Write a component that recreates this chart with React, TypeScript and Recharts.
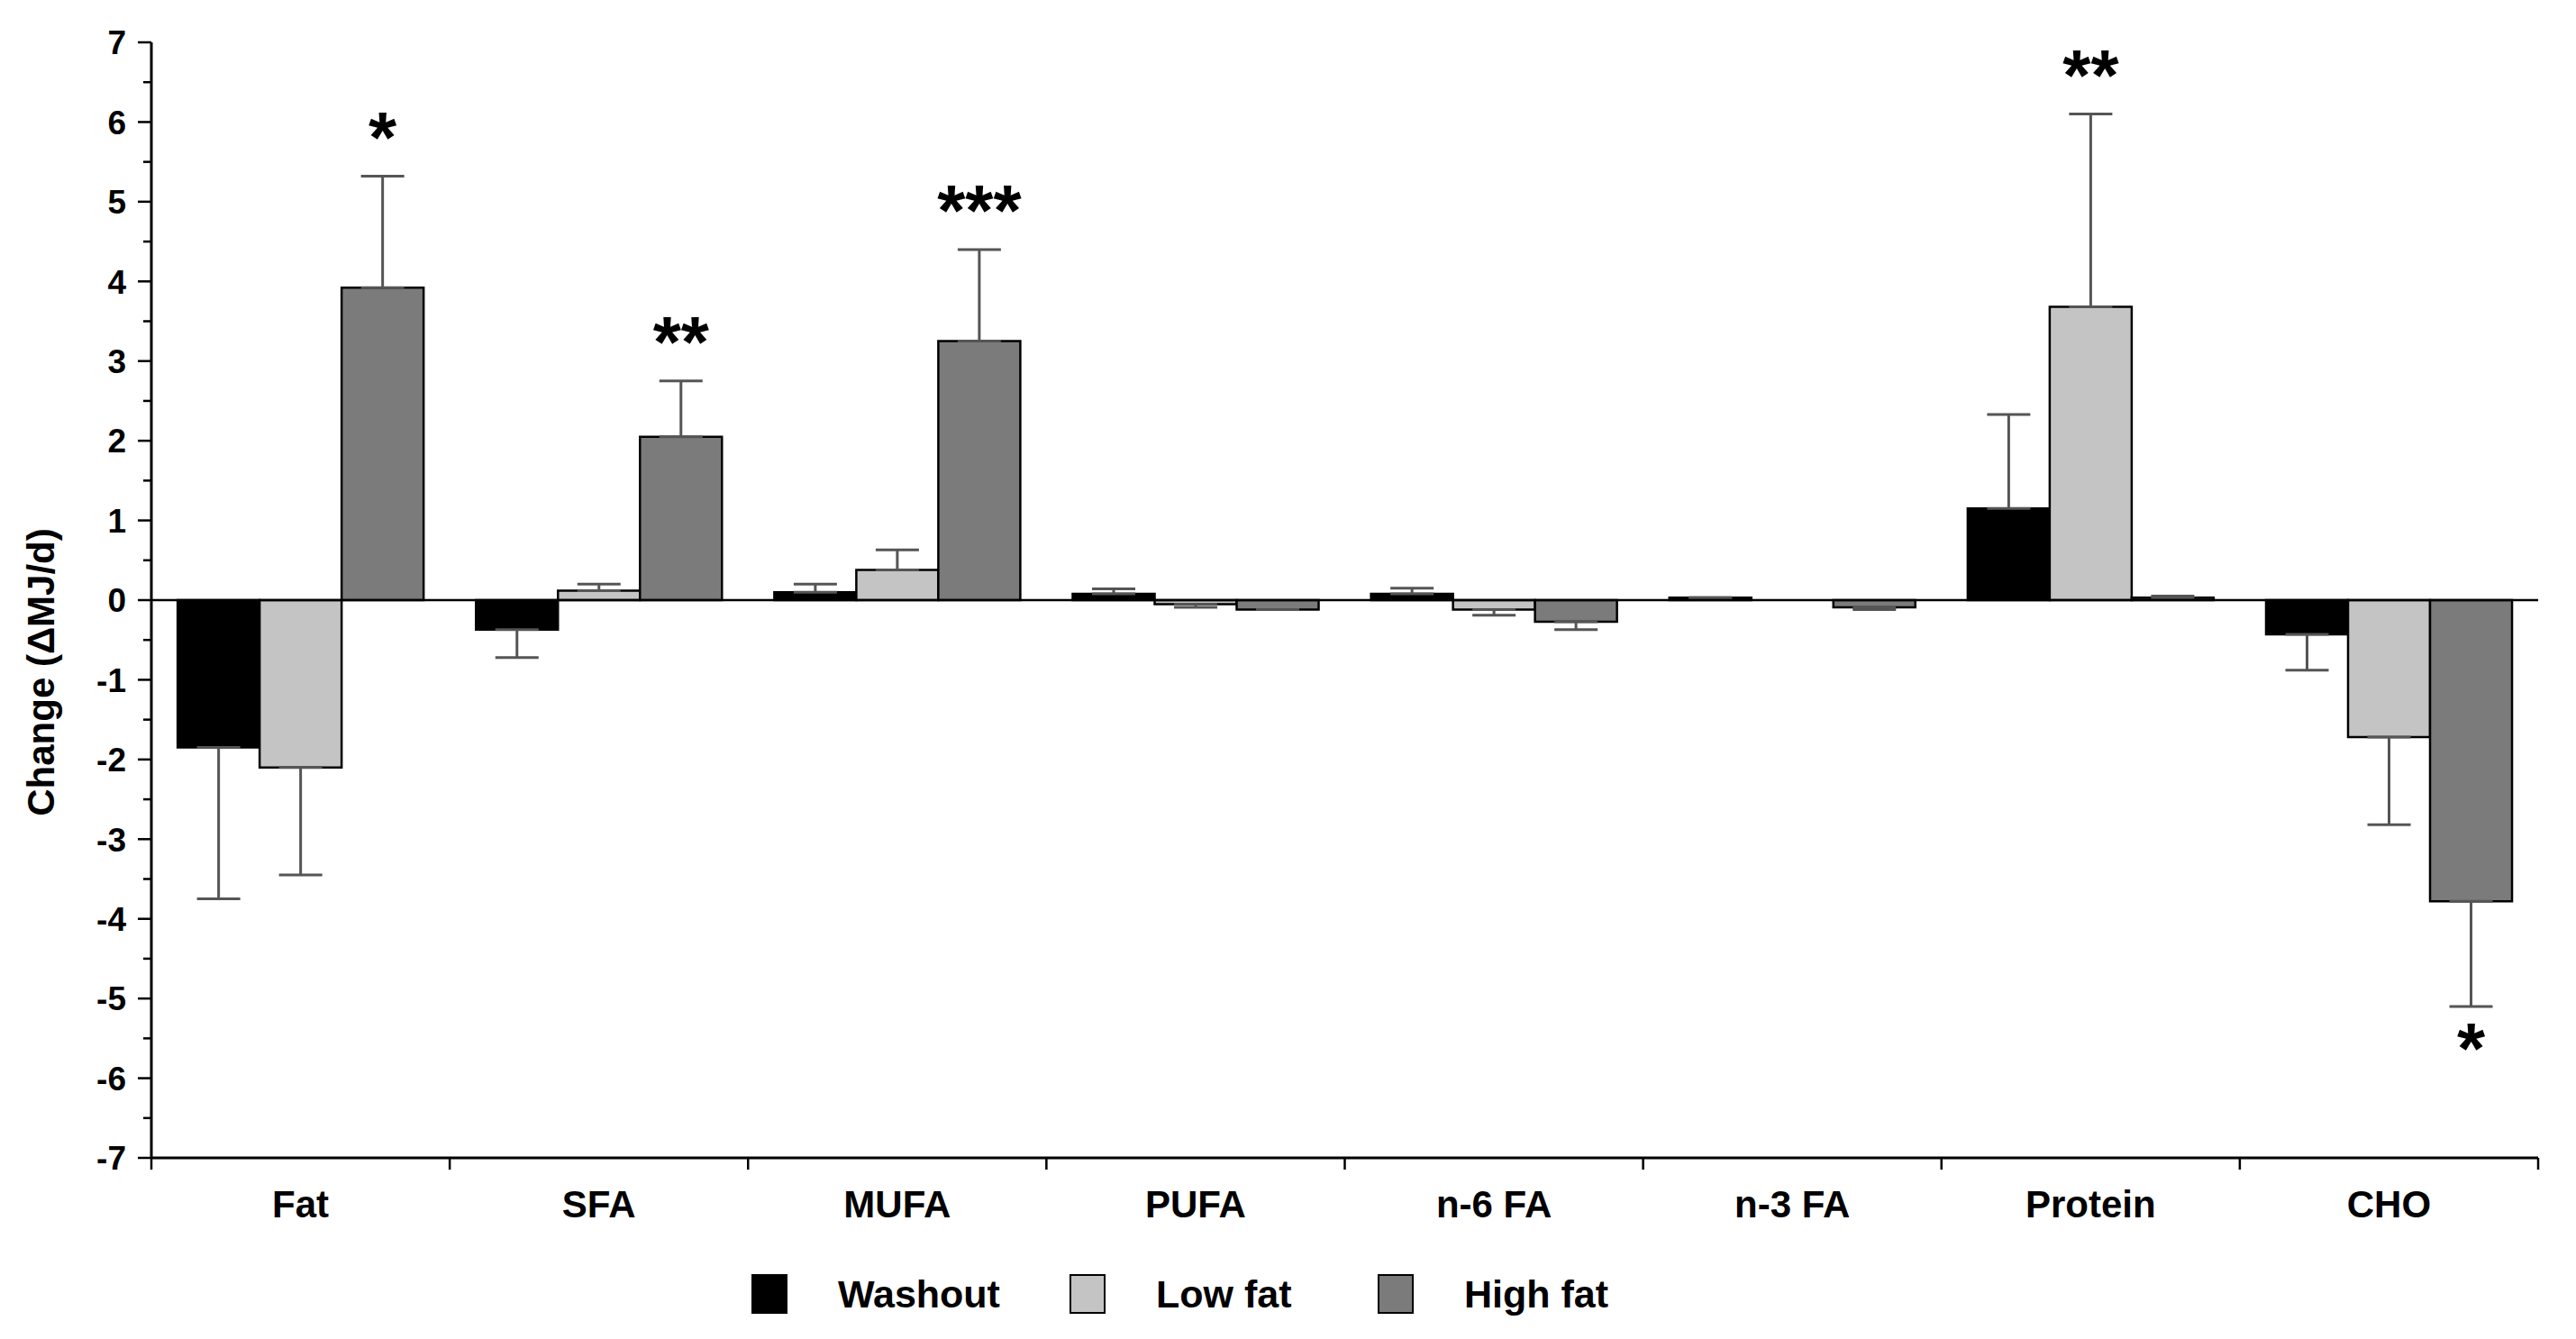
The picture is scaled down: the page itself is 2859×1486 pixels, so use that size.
import {
  BarChart, Bar, XAxis, YAxis, ErrorBar, ReferenceLine, Legend, LabelList, Label,
} from "recharts";

const categories = ["Fat", "SFA", "MUFA", "PUFA", "n-6 FA", "n-3 FA", "Protein", "CHO"];

// mean change per group (MJ/d)
const washout = [-1.85, -0.37, 0.1, 0.08, 0.08, 0.03, 1.15, -0.43];
const lowFat = [-2.1, 0.12, 0.38, -0.05, -0.12, 0, 3.68, -1.72];
const highFat = [3.92, 2.05, 3.25, -0.12, -0.27, -0.09, 0.03, -3.78];

// error bar length (drawn away from zero only)
const washoutErr = [1.9, 0.35, 0.1, 0.06, 0.07, 0, 1.18, 0.45];
const lowFatErr = [1.35, 0.08, 0.25, 0.04, 0.07, 0, 2.42, 1.1];
const highFatErr = [1.4, 0.7, 1.15, 0, 0.1, 0.03, 0.02, 1.32];

// significance marks
const washoutSig = ["", "", "", "", "", "", "", ""];
const lowFatSig = ["", "", "", "", "", "", "**", ""];
const highFatSig = ["*", "**", "***", "", "", "", "", "*"];

const majorTicks = [-7, -6, -5, -4, -3, -2, -1, 0, 1, 2, 3, 4, 5, 6, 7];
const yTicks = majorTicks.flatMap((t) => (t < 7 ? [t, t + 0.5] : [t]));

const FONT = "'Liberation Sans', Arial, Helvetica, sans-serif";

const oneSided = (v: number, e: number) => (v < 0 ? [e, 0] : [0, e]);

const data = categories.map((name, i) => ({
  name,
  idx: i,
  washout: washout[i],
  lowFat: lowFat[i],
  highFat: highFat[i],
  washoutErr: oneSided(washout[i], washoutErr[i]),
  lowFatErr: oneSided(lowFat[i], lowFatErr[i]),
  highFatErr: oneSided(highFat[i], highFatErr[i]),
}));

const legendItems = [
  { label: "Washout", color: "#000000", w: 353 },
  { label: "Low fat", color: "#c4c4c4", w: 342 },
  { label: "High fat", color: "#7b7b7b", w: 300 },
];

// label value is the row index, so skipped zero bars don't shift things
const starLabel = (vals: number[], errs: number[], sigs: string[]) => (props: any) => {
  const idx = Number(props.value);
  const sig = sigs[idx];
  if (!sig) return null;
  const vb = props.viewBox || props;
  const { x, y, width, height } = vb;
  const v = vals[idx];
  const ppu = Math.abs(height) / Math.abs(v);
  const top = Math.min(y, y + height);
  const bottom = Math.max(y, y + height);
  const cx = x + width / 2;
  const ty = v >= 0 ? top - errs[idx] * ppu - 16 : bottom + errs[idx] * ppu + 74;
  return (
    <text x={cx} y={ty} textAnchor="middle" fontSize={80} fontWeight="bold" fontFamily={FONT} fill="#000">
      {sig}
    </text>
  );
};

const YTick = (props: any) => {
  const { x, y, payload } = props;
  const major = Number.isInteger(payload.value);
  return (
    <g>
      <line x1={x - (major ? 15 : 9)} x2={x} y1={y} y2={y} stroke="#000" strokeWidth={2.5} />
      {major && (
        <text x={x - 28} y={y} dy="0.36em" textAnchor="end" fontSize={37} fontWeight="bold" fontFamily={FONT} fill="#000">
          {payload.value}
        </text>
      )}
    </g>
  );
};

const XTick = (props: any) => {
  const { x, y, payload, index, width, visibleTicksCount } = props;
  const n = visibleTicksCount || categories.length;
  const half = (width || 2649) / n / 2;
  return (
    <g>
      <line x1={x - half} x2={x - half} y1={y} y2={y + 13} stroke="#000" strokeWidth={2.5} />
      {index === n - 1 && <line x1={x + half} x2={x + half} y1={y} y2={y + 13} stroke="#000" strokeWidth={2.5} />}
      <text x={x} y={y + 66} textAnchor="middle" fontSize={42} fontWeight="bold" fontFamily={FONT} fill="#000">
        {payload.value}
      </text>
    </g>
  );
};

const LegendBox = () => (
  <div style={{ display: "flex", alignItems: "center", height: 100, paddingLeft: 834, fontFamily: FONT }}>
    {legendItems.map((it) => (
      <div key={it.label} style={{ display: "flex", alignItems: "center", width: it.w }}>
        <div style={{ width: 40, height: 44, background: it.color, border: "2px solid #000", boxSizing: "border-box" }} />
        <span style={{ marginLeft: 56, fontSize: 43, fontWeight: "bold", color: "#000" }}>{it.label}</span>
      </div>
    ))}
  </div>
);

const YLabel = (props: any) => {
  const vb = props.viewBox;
  const cx = vb.x + 45;
  const cy = vb.y + vb.height / 2 + 80;
  return (
    <text x={cx} y={cy} transform={`rotate(-90 ${cx} ${cy})`} textAnchor="middle" dominantBaseline="central"
      fontSize={42} fontWeight="bold" fontFamily={FONT} fill="#000">
      Change (ΔMJ/d)
    </text>
  );
};

export default function App() {
  return (
    <div style={{ position: "absolute", left: 0, top: 0, background: "#fff" }}>
      <BarChart
        width={2859}
        height={1486}
        data={data}
        margin={{ top: 47, right: 42, bottom: 0, left: 0 }}
        barCategoryGap="8.8%"
        barGap={0}
      >
        <XAxis
          dataKey="name"
          height={101}
          interval={0}
          tickLine={false}
          tickSize={0}
          tickMargin={0}
          axisLine={{ stroke: "#000", strokeWidth: 3 }}
          tick={<XTick />}
        />
        <YAxis
          width={168}
          domain={[-7, 7]}
          ticks={yTicks}
          interval={0}
          tickLine={false}
          tickSize={0}
          tickMargin={0}
          axisLine={{ stroke: "#000", strokeWidth: 3 }}
          tick={<YTick />}
        >
          <Label content={<YLabel />} />
        </YAxis>
        <Legend verticalAlign="bottom" height={100} content={() => <LegendBox />} />
        <Bar dataKey="washout" fill="#000000" stroke="#000" strokeWidth={2.5} isAnimationActive={false}>
          <ErrorBar dataKey="washoutErr" width={24} stroke="#555" strokeWidth={3} isAnimationActive={false} />
          <LabelList dataKey="idx" content={starLabel(washout, washoutErr, washoutSig)} />
        </Bar>
        <Bar dataKey="lowFat" fill="#c4c4c4" stroke="#000" strokeWidth={2.5} isAnimationActive={false}>
          <ErrorBar dataKey="lowFatErr" width={24} stroke="#555" strokeWidth={3} isAnimationActive={false} />
          <LabelList dataKey="idx" content={starLabel(lowFat, lowFatErr, lowFatSig)} />
        </Bar>
        <Bar dataKey="highFat" fill="#7b7b7b" stroke="#000" strokeWidth={2.5} isAnimationActive={false}>
          <ErrorBar dataKey="highFatErr" width={24} stroke="#555" strokeWidth={3} isAnimationActive={false} />
          <LabelList dataKey="idx" content={starLabel(highFat, highFatErr, highFatSig)} />
        </Bar>
        <ReferenceLine y={0} stroke="#000" strokeWidth={2.5} />
      </BarChart>
    </div>
  );
}
